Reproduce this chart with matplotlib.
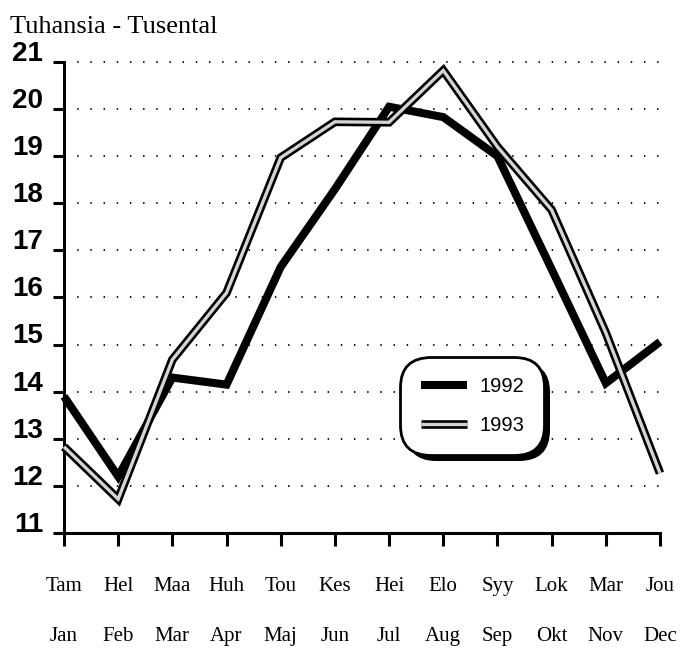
import matplotlib
matplotlib.use("Agg")
import matplotlib.pyplot as plt
import matplotlib.patheffects as pe
from matplotlib.transforms import ScaledTranslation

# ---- data ----
months_fi = ["Tam", "Hel", "Maa", "Huh", "Tou", "Kes", "Hei", "Elo", "Syy", "Lok", "Mar", "Jou"]
months_sv = ["Jan", "Feb", "Mar", "Apr", "Maj", "Jun", "Jul", "Aug", "Sep", "Okt", "Nov", "Dec"]
values_1992 = [13.9, 12.2, 14.3, 14.15, 16.65, 18.3, 20.05, 19.83, 19.0, 16.6, 14.18, 15.06]
values_1993 = [12.83, 11.72, 14.68, 16.1, 18.97, 19.73, 19.72, 20.82, 19.2, 17.86, 15.25, 12.27]
series_labels = ["1992", "1993"]
yticks = list(range(11, 22))
title = "Tuhansia - Tusental"

fig = plt.figure(figsize=(6.89, 6.52), dpi=100)
ax = fig.add_axes([64/689, 1-533/652, 596/689, 471/652])

x = list(range(len(months_fi)))

l92, = ax.plot(x, values_1992, color="black", lw=5.8, solid_joinstyle="miter",
               solid_capstyle="butt", label=series_labels[0], zorder=3, clip_on=False)
l93, = ax.plot(x, values_1993, color="#d4d4d4", lw=2.4, solid_joinstyle="miter",
               solid_capstyle="butt", label=series_labels[1], zorder=4, clip_on=False,
               path_effects=[pe.Stroke(linewidth=6.2, foreground="black"), pe.Normal()])

ax.set_xlim(0, 11)
ax.set_ylim(11, 21)
ax.set_yticks(yticks)
ax.set_yticklabels([str(v) for v in yticks])
ax.set_xticks(x)
ax.set_xticklabels(months_fi)
ax.set_xticks(x, minor=True)
ax.set_xticklabels(months_sv, minor=True)
ax.xaxis.remove_overlapping_locs = False

ax.tick_params(axis="y", direction="out", length=8, width=2.2, pad=7)
ax.tick_params(axis="x", which="major", direction="out", length=9, width=2.2, pad=23)
ax.tick_params(axis="x", which="minor", length=0, pad=68)

offset = ScaledTranslation(0, 8/72, fig.dpi_scale_trans)
for lab in ax.get_yticklabels():
    lab.set_fontsize(20)
    lab.set_fontweight("bold")
    lab.set_family("Liberation Sans")
    lab.set_transform(lab.get_transform() + offset)
for lab in ax.get_xticklabels() + ax.get_xticklabels(minor=True):
    lab.set_fontsize(15)
    lab.set_family("Liberation Serif")

for s in ["top", "right"]:
    ax.spines[s].set_visible(False)
for s in ["left", "bottom"]:
    ax.spines[s].set_linewidth(2.2)

for yv in yticks[1:]:
    ax.axhline(yv, color="black", lw=1.3, linestyle=(0, (0.8, 6.5)), zorder=1, xmax=1.005,
               clip_on=False)

fig.text(10/689, 1-33/652, title, fontsize=19, family="Liberation Serif", va="baseline")

leg = ax.legend(handles=[l92, l93], loc="center", bbox_to_anchor=(0.685, 0.27),
                prop={"family": "Liberation Sans", "size": 14.5},
                handlelength=2.3, handletextpad=0.6, labelspacing=1.0, borderpad=1.0,
                frameon=True, fancybox=True, framealpha=1)
frame = leg.get_frame()
frame.set_edgecolor("black")
frame.set_linewidth(2)
frame.set_boxstyle("round,pad=0,rounding_size=1.5")
frame.set_path_effects([pe.SimplePatchShadow(offset=(4, -4), shadow_rgbFace="black", alpha=1),
                        pe.Normal()])
leg.set_zorder(5)

fig.savefig("out.png", dpi=100)
